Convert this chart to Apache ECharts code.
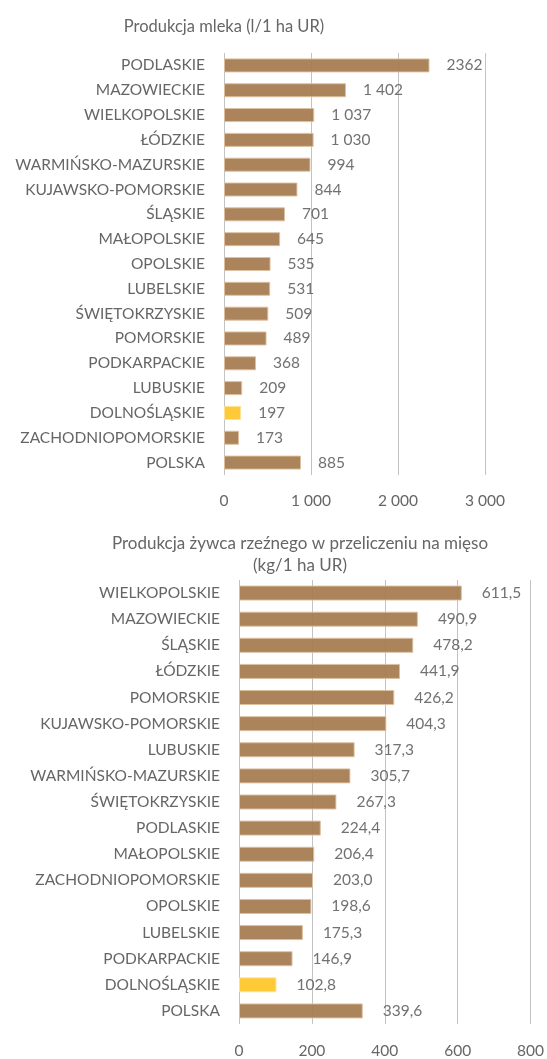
<!DOCTYPE html>
<html>
<head>
<meta charset="utf-8">
<script src="https://cdn.jsdelivr.net/npm/echarts@6/dist/echarts.min.js"></script>
<style>
html,body{margin:0;padding:0;background:#fff;}
#c{width:547px;height:1059px;}
</style>
</head>
<body>
<div id="c"></div>
<script>
var milkCategories = ["PODLASKIE","MAZOWIECKIE","WIELKOPOLSKIE","ŁÓDZKIE","WARMIŃSKO-MAZURSKIE","KUJAWSKO-POMORSKIE","ŚLĄSKIE","MAŁOPOLSKIE","OPOLSKIE","LUBELSKIE","ŚWIĘTOKRZYSKIE","POMORSKIE","PODKARPACKIE","LUBUSKIE","DOLNOŚLĄSKIE","ZACHODNIOPOMORSKIE","POLSKA"];
var milkValues = [2362,1402,1037,1030,994,844,701,645,535,531,509,489,368,209,197,173,885];
var milkLabels = ["2362","1 402","1 037","1 030","994","844","701","645","535","531","509","489","368","209","197","173","885"];
var milkTicks = ["0","1 000","2 000","3 000"];

var meatCategories = ["WIELKOPOLSKIE","MAZOWIECKIE","ŚLĄSKIE","ŁÓDZKIE","POMORSKIE","KUJAWSKO-POMORSKIE","LUBUSKIE","WARMIŃSKO-MAZURSKIE","ŚWIĘTOKRZYSKIE","PODLASKIE","MAŁOPOLSKIE","ZACHODNIOPOMORSKIE","OPOLSKIE","LUBELSKIE","PODKARPACKIE","DOLNOŚLĄSKIE","POLSKA"];
var meatValues = [611.5,490.9,478.2,441.9,426.2,404.3,317.3,305.7,267.3,224.4,206.4,203.0,198.6,175.3,146.9,102.8,339.6];

var highlightRegion = "DOLNOŚLĄSKIE";

var FONT = "Lato, 'Open Sans', sans-serif";
var TXT = "#666666";
var GRID = "#c3c3c3";
var FS = 15.5;

function barData(cats, vals){
  return vals.map(function(v,i){
    var hi = cats[i] === highlightRegion;
    return {
      value: v,
      itemStyle: hi ? {color:"#FFC629", borderColor:"#FCE39A"} : {color:"#A57B50", borderColor:"#DDBF9F"}
    };
  });
}

var chart = echarts.init(document.getElementById('c'), null, {renderer:'canvas'});
chart.setOption({
  animation:false,
  backgroundColor:"#fff",
  title:[
    {text:"Produkcja mleka (l/1 ha UR)", left:219, top:13, textAlign:"center",
     textStyle:{fontFamily:FONT, fontSize:16.5, fontWeight:"normal", color:TXT}},
    {text:"Produkcja żywca rzeźnego w przeliczeniu na mięso\n(kg/1 ha UR)", left:295, top:528, textAlign:"center",
     textStyle:{fontFamily:FONT, fontSize:17, fontWeight:"normal", color:TXT, lineHeight:22}}
  ],
  grid:[
    {left:224, right:62, top:53, height:422, containLabel:false},
    {left:239, right:15, top:580, height:448, containLabel:false}
  ],
  xAxis:[
    {gridIndex:0, type:"value", min:0, max:3000, interval:1000,
     axisLine:{show:false}, axisTick:{show:false},
     splitLine:{show:true, lineStyle:{color:GRID, width:1}},
     axisLabel:{margin:18, fontFamily:FONT, fontSize:FS, color:TXT,
       formatter:function(v){ return milkTicks[Math.round(v/1000)]; }}},
    {gridIndex:1, type:"value", min:0, max:800, interval:200,
     axisLine:{show:false}, axisTick:{show:false},
     splitLine:{show:true, lineStyle:{color:GRID, width:1}},
     axisLabel:{margin:19, fontFamily:FONT, fontSize:FS, color:TXT}}
  ],
  yAxis:[
    {gridIndex:0, type:"category", data:milkCategories, inverse:true,
     axisLine:{show:false}, axisTick:{show:false},
     axisLabel:{margin:19, fontFamily:FONT, fontSize:FS, color:TXT}},
    {gridIndex:1, type:"category", data:meatCategories, inverse:true,
     axisLine:{show:false}, axisTick:{show:false},
     axisLabel:{margin:19, fontFamily:FONT, fontSize:FS, color:TXT}}
  ],
  series:[
    {type:"bar", xAxisIndex:0, yAxisIndex:0, barWidth:14,
     data:barData(milkCategories, milkValues),
     itemStyle:{borderWidth:1, opacity:0.93},
     label:{show:true, position:"right", distance:17, fontFamily:FONT, fontSize:FS, color:TXT,
       formatter:function(p){ return milkLabels[p.dataIndex]; }}},
    {type:"bar", xAxisIndex:1, yAxisIndex:1, barWidth:15,
     data:barData(meatCategories, meatValues),
     itemStyle:{borderWidth:1, opacity:0.93},
     label:{show:true, position:"right", distance:20, fontFamily:FONT, fontSize:FS, color:TXT,
       formatter:function(p){ return p.value.toFixed(1).replace('.', ','); }}}
  ]
});
</script>
</body>
</html>
